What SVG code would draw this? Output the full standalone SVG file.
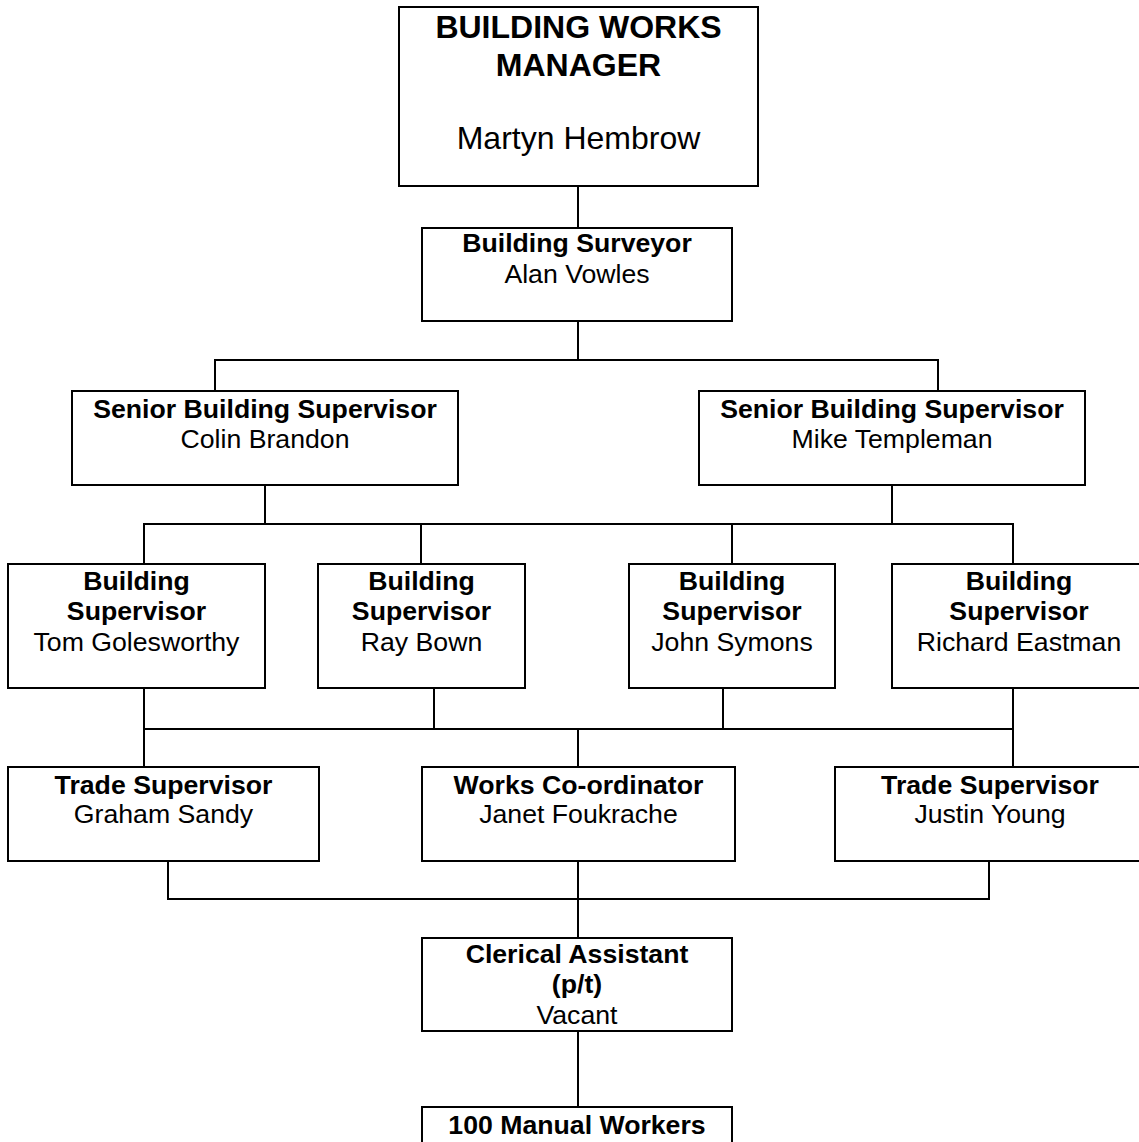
<svg xmlns="http://www.w3.org/2000/svg" width="1139" height="1142" viewBox="0 0 1139 1142">
<style>
.box{fill:#fff;stroke:#000;stroke-width:2}
.ln{fill:none;stroke:#000;stroke-width:2;stroke-linecap:square}
text{font-family:"Liberation Sans",Arial,sans-serif;font-size:26.67px;text-anchor:middle;fill:#000}
.b{font-weight:bold}
.big{font-size:32px}
</style>
<rect width="1139" height="1142" fill="#fff"/>
<g id="connectors">
<path class="ln" d="M578 186V228M578 321V360M215 360H938M215 360V391M938 360V391"/>
<path class="ln" d="M265 485V524M892 485V524M144 524H1013M144 524V564M421 524V564M732 524V564M1013 524V564"/>
<path class="ln" d="M144 688V767M434 688V729M723 688V729M1013 688V767M144 729H1013M578 729V767"/>
<path class="ln" d="M168 861V899M989 861V899M168 899H989M578 861V938M578 1031V1107"/>
</g>
<g id="manager"><rect class="box" x="399" y="7" width="359" height="179"/>
<text class="b big" x="578.5" y="38">BUILDING WORKS</text><text class="b big" x="578.5" y="76">MANAGER</text><text class="big" x="578.5" y="149">Martyn Hembrow</text></g>
<g id="surveyor"><rect class="box" x="422" y="228" width="310" height="93"/>
<text class="b" x="577" y="252">Building Surveyor</text><text x="577" y="283">Alan Vowles</text></g>
<g id="senior1"><rect class="box" x="72" y="391" width="386" height="94"/>
<text class="b" x="265" y="418">Senior Building Supervisor</text><text x="265" y="448">Colin Brandon</text></g>
<g id="senior2"><rect class="box" x="699" y="391" width="386" height="94"/>
<text class="b" x="892" y="418">Senior Building Supervisor</text><text x="892" y="448">Mike Templeman</text></g>
<g id="bs1"><rect class="box" x="8" y="564" width="257" height="124"/>
<text class="b" x="136.5" y="590">Building</text><text class="b" x="136.5" y="620">Supervisor</text><text x="136.5" y="651">Tom Golesworthy</text></g>
<g id="bs2"><rect class="box" x="318" y="564" width="207" height="124"/>
<text class="b" x="421.5" y="590">Building</text><text class="b" x="421.5" y="620">Supervisor</text><text x="421.5" y="651">Ray Bown</text></g>
<g id="bs3"><rect class="box" x="629" y="564" width="206" height="124"/>
<text class="b" x="732" y="590">Building</text><text class="b" x="732" y="620">Supervisor</text><text x="732" y="651">John Symons</text></g>
<g id="bs4"><rect class="box" x="892" y="564" width="254" height="124"/>
<text class="b" x="1019" y="590">Building</text><text class="b" x="1019" y="620">Supervisor</text><text x="1019" y="651">Richard Eastman</text></g>
<g id="trade1"><rect class="box" x="8" y="767" width="311" height="94"/>
<text class="b" x="163.5" y="794">Trade Supervisor</text><text x="163.5" y="823">Graham Sandy</text></g>
<g id="works"><rect class="box" x="422" y="767" width="313" height="94"/>
<text class="b" x="578.5" y="794">Works Co-ordinator</text><text x="578.5" y="823">Janet Foukrache</text></g>
<g id="trade2"><rect class="box" x="835" y="767" width="310" height="94"/>
<text class="b" x="990" y="794">Trade Supervisor</text><text x="990" y="823">Justin Young</text></g>
<g id="clerical"><rect class="box" x="422" y="938" width="310" height="93"/>
<text class="b" x="577" y="963">Clerical Assistant</text><text class="b" x="577" y="993">(p/t)</text><text x="577" y="1024">Vacant</text></g>
<g id="manual"><rect class="box" x="422" y="1107" width="310" height="60"/>
<text class="b" x="577" y="1134">100 Manual Workers</text></g>
</svg>
